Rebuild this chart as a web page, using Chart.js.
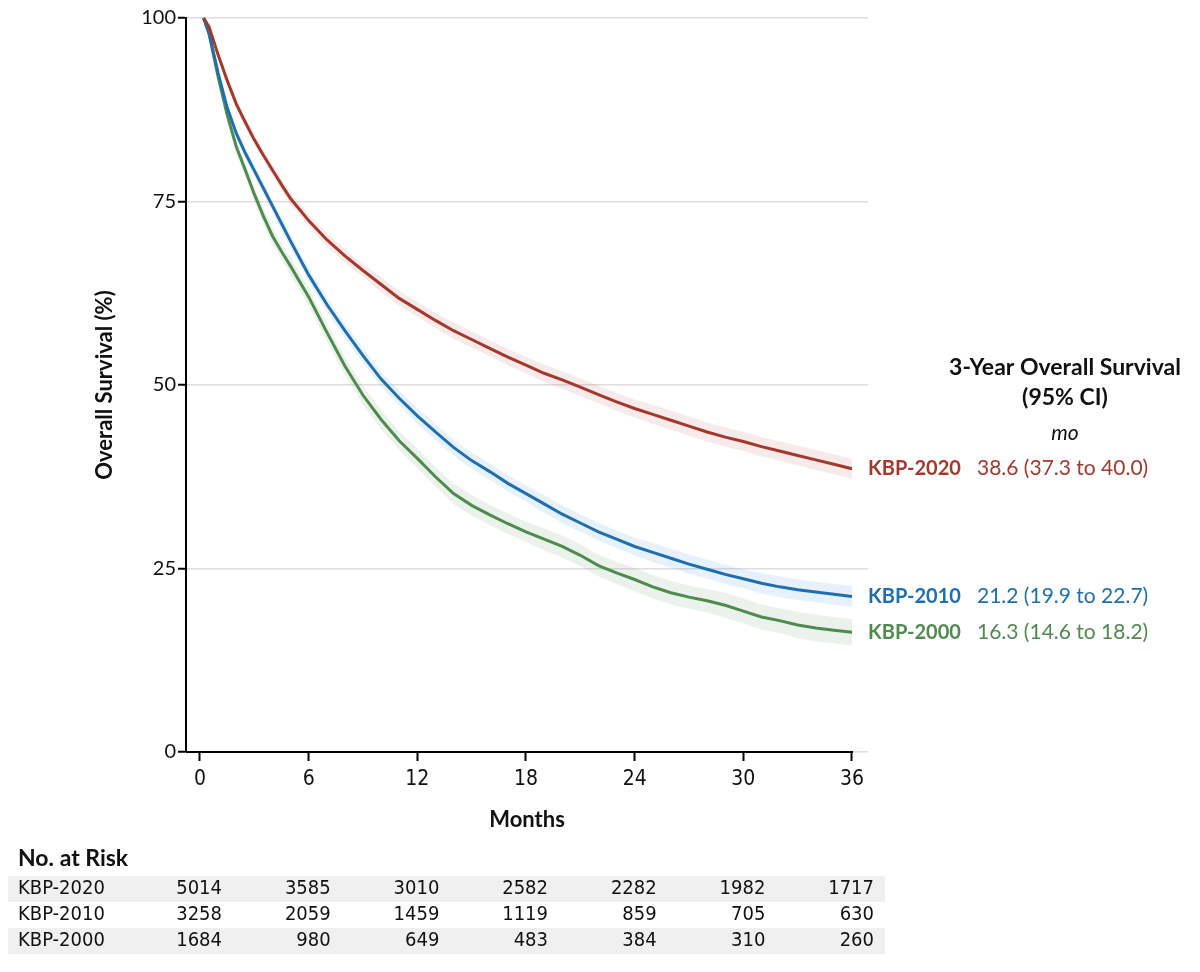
<!DOCTYPE html>
<html><head><meta charset="UTF-8"><title>Overall Survival</title>
<style>
body { margin: 0; background: #fff; }
#wrap { width: 1200px; height: 972px; }
</style>
<script src="https://cdn.jsdelivr.net/npm/chart.js"></script>
</head>
<body>
<div id="wrap"><canvas id="osChart" width="1200" height="972"></canvas></div>
<script>
// time points (months)
const months = [0.2, 0.5, 1, 1.5, 2, 2.5, 3, 3.5, 4, 4.5, 5, 6, 7, 8, 9, 10, 11, 12, 13, 14, 15, 16, 17, 18,
                19, 20, 21, 22, 23, 24, 25, 26, 27, 28, 29, 30, 31, 32, 33, 34, 35, 36];

const os2020 = [100, 98.8, 95.0, 91.5, 88.3, 85.8, 83.4, 81.3, 79.3, 77.3, 75.4, 72.4, 69.8, 67.6, 65.6, 63.7,
                61.8, 60.3, 58.8, 57.4, 56.2, 55.0, 53.8, 52.7, 51.6, 50.7, 49.7, 48.7, 47.7, 46.8, 46.0, 45.2,
                44.4, 43.6, 42.9, 42.3, 41.6, 41.0, 40.4, 39.8, 39.2, 38.6];
const os2010 = [100, 98.0, 92.5, 87.8, 84.3, 81.6, 79.2, 76.8, 74.4, 72.0, 69.6, 65.0, 61.0, 57.4, 54.0, 50.8,
                48.2, 45.8, 43.6, 41.5, 39.7, 38.2, 36.6, 35.2, 33.8, 32.4, 31.2, 30.0, 29.0, 28.0, 27.2, 26.4,
                25.6, 24.9, 24.2, 23.6, 23.0, 22.5, 22.1, 21.8, 21.5, 21.2];
const os2000 = [100, 97.8, 92.0, 86.8, 82.5, 79.3, 76.0, 73.0, 70.3, 68.2, 66.2, 62.0, 57.2, 52.6, 48.6, 45.3,
                42.4, 40.0, 37.5, 35.2, 33.6, 32.3, 31.1, 30.0, 29.0, 28.0, 26.8, 25.4, 24.4, 23.5, 22.5, 21.7,
                21.1, 20.6, 20.0, 19.2, 18.4, 17.9, 17.3, 16.9, 16.6, 16.3];

// half-width of the shaded 95% CI band, read at the same months
const ciHalf2020 = [0, 0.2, 0.4, 0.5, 0.6, 0.6, 0.7, 0.7, 0.7, 0.8, 0.8, 0.8, 0.9, 0.9, 0.9, 1.0, 1.0, 1.0, 1.0, 1.1, 1.1,
                    1.1, 1.1, 1.1, 1.2, 1.2, 1.2, 1.2, 1.2, 1.2, 1.3, 1.3, 1.3, 1.3, 1.3, 1.3, 1.3, 1.3, 1.35, 1.35, 1.35, 1.35];
const ciHalf2010 = [0, 0.3, 0.5, 0.6, 0.7, 0.7, 0.8, 0.8, 0.8, 0.9, 0.9, 0.9, 1.0, 1.0, 1.0, 1.0, 1.0, 1.1, 1.1, 1.1, 1.1,
                    1.1, 1.1, 1.1, 1.2, 1.2, 1.2, 1.2, 1.2, 1.2, 1.3, 1.3, 1.3, 1.3, 1.3, 1.3, 1.4, 1.4, 1.4, 1.4, 1.4, 1.4];
const ciHalf2000 = [0, 0.4, 0.7, 0.8, 0.9, 1.0, 1.0, 1.1, 1.1, 1.1, 1.2, 1.2, 1.2, 1.2, 1.3, 1.3, 1.3, 1.3, 1.3, 1.4, 1.4,
                    1.4, 1.4, 1.4, 1.5, 1.5, 1.5, 1.5, 1.5, 1.6, 1.6, 1.6, 1.6, 1.6, 1.7, 1.7, 1.7, 1.7, 1.8, 1.8, 1.8, 1.8];

const groups = ['KBP-2020', 'KBP-2010', 'KBP-2000'];
const threeYear = ['38.6 (37.3 to 40.0)', '21.2 (19.9 to 22.7)', '16.3 (14.6 to 18.2)'];

const xTicks = [0, 6, 12, 18, 24, 30, 36];
const yTicks = [0, 25, 50, 75, 100];

const riskTimes = [0, 6, 12, 18, 24, 30, 36];
const risk2020 = [5014, 3585, 3010, 2582, 2282, 1982, 1717];
const risk2010 = [3258, 2059, 1459, 1119, 859, 705, 630];
const risk2000 = [1684, 980, 649, 483, 384, 310, 260];

const colors = ['#a5382c', '#1f6fae', '#4f8a4f'];
const bands = ['rgba(180,60,60,0.11)', 'rgba(60,140,220,0.12)', 'rgba(90,150,90,0.12)'];

const FONT = 'Lato, "Noto Sans", sans-serif';
const NARROW = '"Liberation Sans Narrow", "DejaVu Sans Condensed", sans-serif';

const series = [os2020, os2010, os2000];
const halves = [ciHalf2020, ciHalf2010, ciHalf2000];
const risks = [risk2020, risk2010, risk2000];

function pts(vals, off, sign) {
    return months.map((m, i) => ({ x: m, y: vals[i] + (off ? sign * off[i] : 0) }));
}

const datasets = [];
series.forEach((vals, i) => {
    datasets.push({
        label: groups[i],
        data: pts(vals),
        borderColor: colors[i],
        borderWidth: 3,
        pointRadius: 0,
        tension: 0,
        fill: false,
        clip: 6,
        order: 1
    });
});
series.forEach((vals, i) => {
    datasets.push({
        label: groups[i] + ' lo',
        data: pts(vals, halves[i], -1),
        borderWidth: 0,
        pointRadius: 0,
        fill: false,
        order: 5
    });
    datasets.push({
        label: groups[i] + ' hi',
        data: pts(vals, halves[i], 1),
        borderWidth: 0,
        pointRadius: 0,
        backgroundColor: bands[i],
        fill: '-1',
        order: 5
    });
});

const extras = {
    id: 'extras',
    afterDraw(chart) {
        const ctx = chart.ctx;
        const xs = chart.scales.x, ys = chart.scales.y;
        ctx.save();

        // x axis line, ends at 36 months
        ctx.strokeStyle = '#000';
        ctx.lineWidth = 2;
        ctx.beginPath();
        ctx.moveTo(xs.left, ys.bottom);
        ctx.lineTo(xs.getPixelForValue(36) + 1, ys.bottom);
        ctx.stroke();

        // right-hand labels
        ctx.fillStyle = '#111';
        ctx.textAlign = 'center';
        ctx.textBaseline = 'middle';
        ctx.font = 'bold 23px ' + FONT;
        ctx.fillText('3-Year Overall Survival', 1065, 368);
        ctx.fillText('(95% CI)', 1065, 398);
        ctx.font = 'italic 21px ' + FONT;
        ctx.fillText('mo', 1065, 433);

        ctx.textAlign = 'left';
        series.forEach((vals, i) => {
            const y = ys.getPixelForValue(vals[vals.length - 1]);
            ctx.fillStyle = colors[i];
            ctx.font = 'bold 20px ' + FONT;
            ctx.fillText(groups[i], 868, y);
            ctx.font = '21px ' + FONT;
            ctx.fillText(threeYear[i], 977, y);
        });

        // number at risk table
        ctx.fillStyle = '#111';
        ctx.font = 'bold 23px ' + FONT;
        ctx.fillText('No. at Risk', 18, 859);
        const rowY = [889, 915, 941];
        risks.forEach((row, r) => {
            if (r % 2 === 0) {
                ctx.fillStyle = '#f0f0f0';
                ctx.fillRect(8, rowY[r] - 13, 877, 26);
            }
            ctx.fillStyle = '#111';
            ctx.font = '20px ' + NARROW;
            ctx.textAlign = 'left';
            ctx.fillText(groups[r], 18, rowY[r]);
            ctx.textAlign = 'right';
            row.forEach((n, k) => {
                ctx.fillText(String(n), xs.getPixelForValue(riskTimes[k]) + 22, rowY[r]);
            });
        });
        ctx.restore();
    }
};

new Chart(document.getElementById('osChart'), {
    type: 'line',
    data: { datasets: datasets },
    options: {
        responsive: false,
        animation: false,
        devicePixelRatio: 1,
        layout: { padding: { left: 0, right: 332, top: 18, bottom: 0 } },
        plugins: { legend: { display: false }, tooltip: { enabled: false } },
        scales: {
            x: {
                type: 'linear',
                min: -0.773,
                max: 36.884,
                afterFit: s => { s.height = 220; },
                afterBuildTicks: s => { s.ticks = xTicks.map(v => ({ value: v })); },
                grid: { drawOnChartArea: false, tickLength: 9, tickColor: '#000', tickWidth: 2 },
                border: { display: false },
                ticks: { color: '#111', font: { family: NARROW, size: 21 }, padding: 6, maxRotation: 0 },
                title: { display: true, text: 'Months', color: '#111', align: 'center',
                         font: { family: FONT, size: 22, weight: 'bold' }, padding: { top: 0, bottom: 139 } }
            },
            y: {
                min: 0,
                max: 100,
                afterFit: s => { s.width = 186; },
                afterBuildTicks: s => { s.ticks = yTicks.map(v => ({ value: v })); },
                grid: { color: '#dedede', lineWidth: 1.5, tickLength: 8, tickColor: '#000', tickWidth: 2 },
                border: { display: true, color: '#000', width: 2 },
                ticks: { color: '#111', font: { family: FONT, size: 20 }, padding: 2 },
                title: { display: true, text: 'Overall Survival (%)', color: '#111',
                         font: { family: FONT, size: 22, weight: 'bold' }, padding: { top: 92, bottom: 0 } }
            }
        }
    },
    plugins: [extras]
});
</script>
</body></html>
